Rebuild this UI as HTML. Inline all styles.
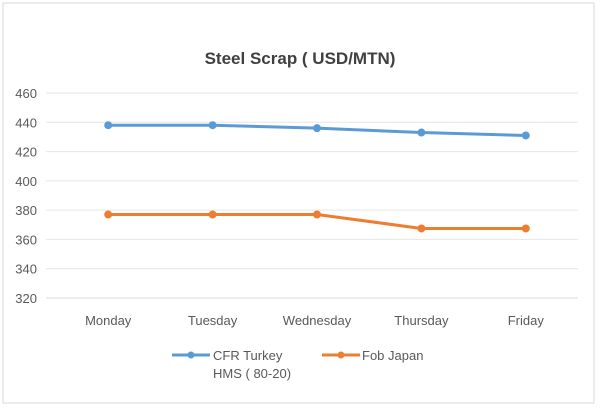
<!DOCTYPE html>
<html><head><meta charset="utf-8"><style>
body{margin:0;background:#fff;}
svg{display:block;font-family:"Liberation Sans",sans-serif;}
</style></head><body>
<svg width="600" height="408" viewBox="0 0 600 408">
<rect x="3" y="3" width="591" height="400" fill="#fff" stroke="#d9d9d9"/>
<text x="300" y="64" text-anchor="middle" font-size="17" font-weight="bold" fill="#404040">Steel Scrap ( USD/MTN)</text>
<g id="grid"></g><g id="series"></g>
<g>
<g>
<line x1="172" y1="355" x2="210" y2="355" stroke="#5b9bd5" stroke-width="3"/><circle cx="191" cy="355" r="3.5" fill="#5b9bd5"/>
<text x="213" y="360" font-size="13" fill="#595959">CFR Turkey</text><text x="213" y="378" font-size="13" fill="#595959">HMS ( 80-20)</text></g>
<g>
<line x1="322" y1="355" x2="360" y2="355" stroke="#ed7d31" stroke-width="3"/><circle cx="341" cy="355" r="3.5" fill="#ed7d31"/>
<text x="362" y="360" font-size="13" fill="#595959">Fob Japan</text></g>
</g>
</svg>
<script>
const categories=["Monday","Tuesday","Wednesday","Thursday","Friday"];
const cfrTurkey=[438,438,436,433,431];
const fobJapan=[377,377,377,367.5,367.5];
const yTicks=[320,340,360,380,400,420,440,460];
const NS="http://www.w3.org/2000/svg";
const y0=298,y1=93,vmin=320,vmax=460,xL=56,xR=578;
const y=v=>y0-(v-vmin)/(vmax-vmin)*(y0-y1);
const x=i=>xL+(xR-xL)*(i+0.5)/categories.length;
const grid=document.getElementById('grid'),ser=document.getElementById('series');
function mk(t,a,p){const e=document.createElementNS(NS,t);for(const k in a)e.setAttribute(k,a[k]);p.appendChild(e);return e;}
yTicks.forEach(v=>{
 const l=mk('line',{x1:46,x2:xR,y1:y(v),y2:y(v),stroke:v===320?'#d9d9d9':'#e6e6e6'},grid);
 
 
 const t=mk('text',{x:37,y:y(v)+5,'text-anchor':'end','font-size':13,fill:'#595959'},grid);
 t.textContent=v;
 
 
});
categories.forEach((c,i)=>{
 const t=mk('text',{x:x(i),y:325,'text-anchor':'middle','font-size':13,fill:'#595959'},grid);
 t.textContent=c;
 
 
});
[[cfrTurkey,'#5b9bd5','cfr-turkey'],[fobJapan,'#ed7d31','fob-japan']].forEach(([d,col,n])=>{
 const p=mk('polyline',{points:d.map((v,i)=>x(i)+','+y(v)).join(' '),fill:'none',stroke:col,'stroke-width':3},ser);
 
 
 d.forEach((v,i)=>{
  const c=mk('circle',{cx:x(i),cy:y(v),r:4,fill:col},ser);
  
  
 });
});
</script>
</body></html>
